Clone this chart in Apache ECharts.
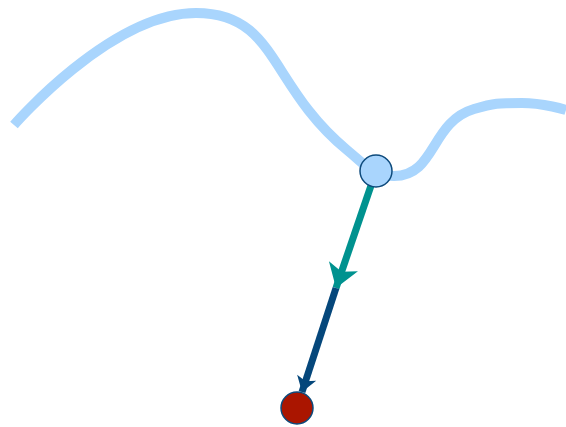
<!DOCTYPE html>
<html><head><meta charset="utf-8">
<script src="https://cdn.jsdelivr.net/npm/echarts@6/dist/echarts.min.js"></script>
<style>html,body{margin:0;padding:0;background:#fff}#c{width:566px;height:427px}</style>
</head><body><div id="c"></div>
<script>
// Curve anchor points (x, y) in data units
var curveX = [14, 196, 347, 394, 474, 522, 566];
var curveY = [302, 414, 277, 251, 318, 324, 317];
// Current point and steps
var startPoint = [376, 256];
var midPoint = [336, 139];
var arrowEnd = [302, 35];
var endPoint = [297, 19];

var curveData = curveX.map(function (x, i) { return [x, curveY[i]]; });

var chart = echarts.init(document.getElementById('c'));
chart.setOption({
  animation: false,
  grid: { left: 0, right: 0, top: 0, bottom: 0 },
  xAxis: { type: 'value', min: 0, max: 566, show: false },
  yAxis: { type: 'value', min: 0, max: 427, show: false },
  series: [
    {
      type: 'line', data: curveData, smooth: 0.5, showSymbol: false, symbol: 'none',
      lineStyle: { color: '#a9d5fd', width: 10, cap: 'butt' }, z: 1
    },
    {
      type: 'lines', coordinateSystem: 'cartesian2d', z: 2,
      symbol: ['none', 'arrow'], symbolSize: 23,
      lineStyle: { color: '#00928f', width: 7, opacity: 1, curveness: 0 },
      data: [{ coords: [startPoint, midPoint] }]
    },
    {
      type: 'lines', coordinateSystem: 'cartesian2d', z: 2,
      symbol: ['none', 'arrow'], symbolSize: 15,
      lineStyle: { color: '#05477b', width: 7, opacity: 1, curveness: 0 },
      data: [{ coords: [midPoint, arrowEnd] }]
    },
    {
      type: 'scatter', z: 3, symbolSize: 32,
      itemStyle: { color: '#a9d5fd', borderColor: '#0d4a7c', borderWidth: 1.5, opacity: 1 },
      data: [startPoint]
    },
    {
      type: 'scatter', z: 3, symbolSize: 32,
      itemStyle: { color: '#aa1500', borderColor: '#0d4a7c', borderWidth: 1.5, opacity: 1 },
      data: [endPoint]
    }
  ]
});
</script></body></html>
